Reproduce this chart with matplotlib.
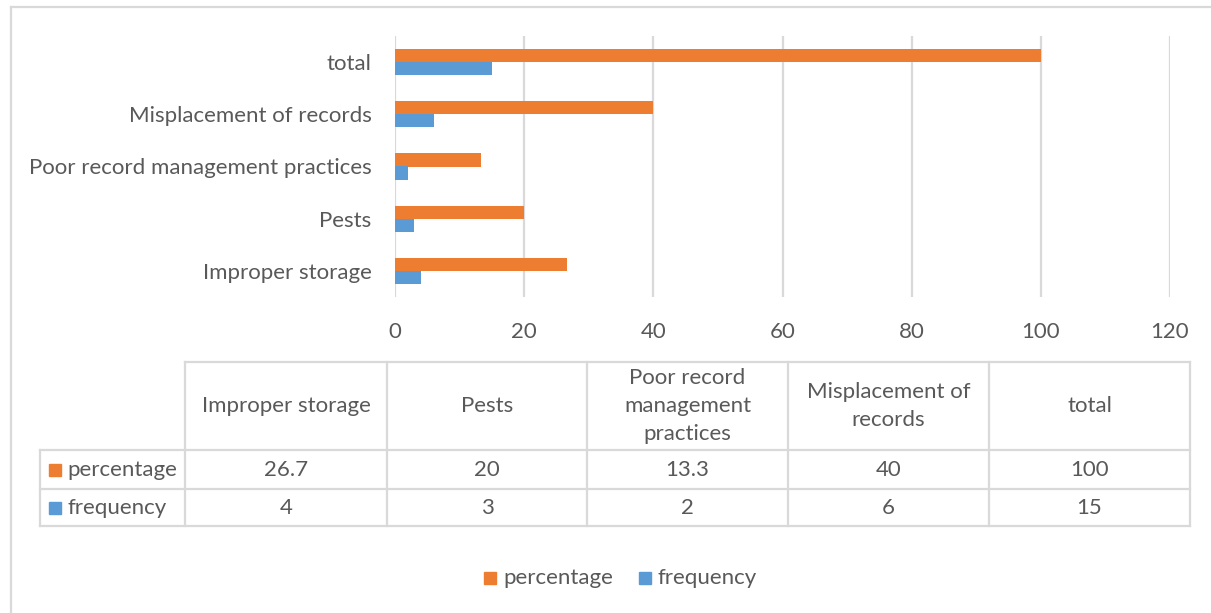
import matplotlib.pyplot as plt
from matplotlib.lines import Line2D
from matplotlib.patches import Rectangle

plt.rcParams['font.family'] = ['Lato', 'DejaVu Sans']

categories = ['Improper storage', 'Pests', 'Poor record management practices',
              'Misplacement of records', 'total']
header_labels = ['Improper storage', 'Pests', 'Poor record\nmanagement\npractices',
                 'Misplacement of\nrecords', 'total']
percentage = [26.7, 20, 13.3, 40, 100]
frequency = [4, 3, 2, 6, 15]
percentage_text = ['26.7', '20', '13.3', '40', '100']
frequency_text = ['4', '3', '2', '6', '15']
xticks = [0, 20, 40, 60, 80, 100, 120]

ORANGE = '#ed7d31'
BLUE = '#5b9bd5'
GREY_TXT = '#595959'
GRID = '#d9d9d9'
FS = 16

W, H = 1211, 613
fig = plt.figure(figsize=(W / 100, H / 100), dpi=100)


def fx(px):
    return px / W


def fy(py):
    return 1 - py / H


# bar chart area
ax = fig.add_axes([fx(395), fy(297), fx(1170) - fx(395), fy(36) - fy(297)])
ypos = list(range(len(categories)))
bh = 0.25
ax.barh([y + bh / 2 for y in ypos], percentage, height=bh, color=ORANGE)
ax.barh([y - bh / 2 for y in ypos], frequency, height=bh, color=BLUE)
ax.set_xlim(0, 120)
ax.set_ylim(-0.5, len(categories) - 0.5)
ax.set_xticks(xticks)
ax.set_yticks(ypos)
ax.set_yticklabels(categories)
for x in xticks:
    ax.axvline(x, color=GRID, lw=1.6, zorder=0)
for s in ax.spines.values():
    s.set_visible(False)
ax.tick_params(axis='both', length=0, labelsize=FS, labelcolor=GREY_TXT)
ax.tick_params(axis='x', pad=18)
ax.tick_params(axis='y', pad=17)

# data table below the chart
col_x = [40, 185, 387, 587, 788, 989, 1190]
row_y = [362, 450, 489, 526]


def hline(x0, x1, y):
    fig.add_artist(Line2D([fx(x0), fx(x1)], [fy(y), fy(y)], color=GRID, lw=1.6))


def vline(x, y0, y1):
    fig.add_artist(Line2D([fx(x), fx(x)], [fy(y0), fy(y1)], color=GRID, lw=1.6))


hline(col_x[1], col_x[-1], row_y[0])
for y in row_y[1:]:
    hline(col_x[0], col_x[-1], y)
vline(col_x[0], row_y[1], row_y[-1])
for x in col_x[1:]:
    vline(x, row_y[0], row_y[-1])

for i, lab in enumerate(header_labels):
    cx = (col_x[i + 1] + col_x[i + 2]) / 2
    fig.text(fx(cx), fy((row_y[0] + row_y[1]) / 2), lab, ha='center', va='center',
             fontsize=FS, color=GREY_TXT, linespacing=1.5)

rows = [('percentage', ORANGE, percentage_text), ('frequency', BLUE, frequency_text)]
for r, (name, col, vals) in enumerate(rows):
    cy = (row_y[r + 1] + row_y[r + 2]) / 2
    fig.add_artist(Rectangle((fx(49), fy(cy + 6)), fx(12), fy(0) - fy(12), color=col,
                             transform=fig.transFigure))
    fig.text(fx(67), fy(cy), name, ha='left', va='center', fontsize=FS, color=GREY_TXT)
    for i, v in enumerate(vals):
        cx = (col_x[i + 1] + col_x[i + 2]) / 2
        fig.text(fx(cx), fy(cy), v, ha='center', va='center', fontsize=FS, color=GREY_TXT)

# legend
leg = [(484, 'percentage', ORANGE), (639, 'frequency', BLUE)]
for x0, name, col in leg:
    fig.add_artist(Rectangle((fx(x0), fy(584)), fx(12), fy(0) - fy(12), color=col,
                             transform=fig.transFigure))
    fig.text(fx(x0 + 19), fy(578), name, ha='left', va='center', fontsize=FS, color=GREY_TXT)

# chart frame
hline(11, W, 7)
vline(11, 7, H)

fig.savefig('out.png', dpi=100)
